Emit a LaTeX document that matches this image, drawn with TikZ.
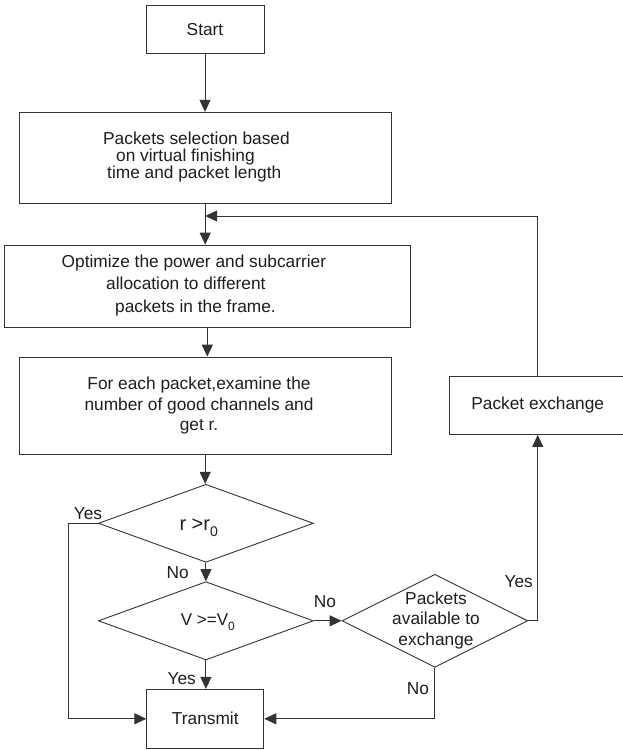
\documentclass[tikz,border=0pt]{standalone}
\usepackage{fontspec}
\setmainfont{Liberation Sans}
\usetikzlibrary{arrows.meta,shapes.geometric}
\definecolor{lc}{HTML}{333333}
\definecolor{tx}{HTML}{1E1E1E}
\begin{document}
\begin{tikzpicture}[x=1pt,y=-1pt,
  every node/.style={text=tx, font=\fontsize{17.3}{17}\selectfont, inner sep=0pt},
  box/.style={draw=lc, line width=0.9pt, rectangle},
  dia/.style={draw=lc, line width=0.9pt, diamond},
  arr/.style={draw=lc, line width=0.9pt, -{Triangle[length=12pt,width=11pt]}},
  plain/.style={draw=lc, line width=0.9pt}]
\fill[white] (0,0) rectangle (622,750);
\useasboundingbox (0,0) rectangle (622,750);
% boxes
\node[box, minimum width=118pt, minimum height=48.3pt] (start) at (205,29.2) {Start};
\node[box, minimum width=371.6pt, minimum height=91pt] (sel) at (205.2,157.8) {};
\node[anchor=west, align=left, font=\fontsize{17.3}{17}\selectfont] (selt) at (103,157.5)
  {Packets selection based\\\hspace*{13pt}on virtual finishing\\\hspace*{4pt}time and packet length};
\node[box, minimum width=406.7pt, minimum height=82.3pt] (opt) at (207.3,286.2) {};
\node[anchor=west, align=left, font=\fontsize{17.3}{22.5}\selectfont] (optt) at (61.5,285.5)
  {Optimize the power and subcarrier\\\hspace*{44.5pt}allocation to different\\\hspace*{53.5pt}packets in the frame.};
\node[box, minimum width=371.6pt, minimum height=97pt] (each) at (205.2,405.5) {};
\node[align=center, font=\fontsize{17.3}{20.5}\selectfont] (eacht) at (199,406)
  {For each packet,examine the\\number of good channels and\\get r.};
\node[box, minimum width=176.7pt, minimum height=58.5pt] (exch) at (537.7,405.2) {Packet exchange};
\node[box, minimum width=117pt, minimum height=59pt] (tr) at (205.3,718.8) {Transmit};
% decisions
\node[dia, minimum width=215pt, minimum height=78pt] (d1) at (205.9,523.3) {};
\node[anchor=base west, font=\fontsize{20}{20}\selectfont] (d1t) at (179.3,530)
  {r >r\raisebox{-6pt}{\fontsize{14}{14}\selectfont 0}};
\node[dia, minimum width=215pt, minimum height=78.3pt] (d2) at (205.9,620.8) {};
\node[anchor=base west, font=\fontsize{17}{17}\selectfont] (d2t) at (180.7,625)
  {V >=V\raisebox{-5pt}{\fontsize{12}{12}\selectfont 0}};
\node[dia, minimum width=185.8pt, minimum height=93pt] (d3) at (434.9,620.8) {};
\node[align=center, font=\fontsize{17.3}{20.7}\selectfont] (d3t) at (436,620.5)
  {Packets\\available to\hspace*{18pt}\\exchange};
% connectors
\draw[arr] (start.south) -- (start.south |- sel.north);
\draw[arr] (sel.south) -- (sel.south |- opt.north);
\coordinate (fb) at (205.2,216);
\draw[arr] (exch.north) |- (fb);
\draw[arr] (opt.south) -- (opt.south |- each.north);
\draw[arr] (each.south) -- (each.south |- d1.north);
\coordinate (yl) at (68.3,523.3);
\draw[arr] (d1.west) -- (yl) |- (tr.west);
\draw[arr] (d1.south) -- (d2.north);
\draw[arr] (d2.east) -- (d3.west);
\draw[arr] (d2.south) -- (d2.south |- tr.north);
\draw[arr] (d3.east) -| (exch.south);
\draw[arr] (d3.south) |- (tr.east);
% labels
\node (l1) at (88,513.3) {Yes};
\node (l2) at (177.6,572.3) {No};
\node (l3) at (325,601.7) {No};
\node (l4) at (181.7,678.3) {Yes};
\node (l5) at (518.7,581.7) {Yes};
\node (l6) at (418,689) {No};
\end{tikzpicture}
\end{document}
